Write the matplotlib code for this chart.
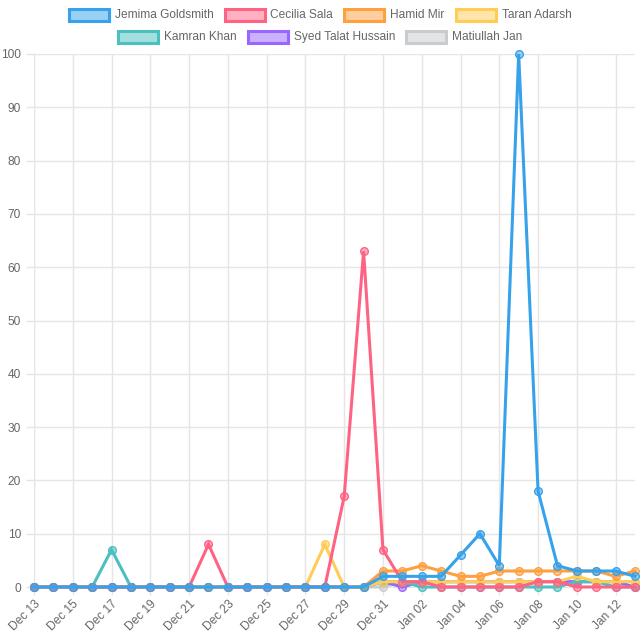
import matplotlib
matplotlib.use("Agg")
from matplotlib import pyplot as plt
from matplotlib.patches import Rectangle
import pandas as pd

# Etiquetas diárias (Dec 13 .. Jan 13)
days = [d.strftime("%b %d") for d in pd.date_range("2024-12-13", "2025-01-13")]

names = ["Jemima Goldsmith", "Cecilia Sala", "Hamid Mir", "Taran Adarsh",
         "Kamran Khan", "Syed Talat Hussain", "Matiullah Jan"]
colors = ["#36a2eb", "#ff6384", "#ff9f40", "#ffcd56",
          "#4bc0c0", "#9966ff", "#c9cbcf"]

jemima    = [0]*18 + [2, 2, 2, 2, 6, 10, 4, 100, 18, 4, 3, 3, 3, 2]
cecilia   = [0]*9 + [8] + [0]*6 + [17, 63, 7, 1, 1, 0, 0, 0, 0, 0, 1, 1, 0, 0, 0, 0]
hamid     = [0]*18 + [3, 3, 4, 3, 2, 2, 3, 3, 3, 3, 3, 3, 2, 3]
taran     = [0]*15 + [8, 0, 0] + [1, 1, 1, 1, 1, 1, 1, 1, 1, 1, 2, 1, 1, 1]
kamran    = [0]*4 + [7] + [0]*13 + [1, 1, 0, 0, 0, 0, 0, 0, 0, 0, 1, 1, 0, 0]
syed      = [0]*18 + [1, 0, 1, 1, 1, 1, 1, 1, 1, 1, 1, 1, 1, 0]
matiullah = [0]*18 + [0, 1, 1, 1, 1, 1, 1, 1, 1, 1, 1, 1, 1, 1]
series = [jemima, cecilia, hamid, taran, kamran, syed, matiullah]

grid_c = "#e5e5e5"
txt_c = "#666666"
plt.rcParams["font.family"] = ["Liberation Sans", "DejaVu Sans"]

fig = plt.figure(figsize=(6.4, 6.4), dpi=100)
ax = fig.add_axes([34/640, 53/640, 601/640, 533/640])

x = list(range(len(days)))
for i, (nm, c, ys) in enumerate(zip(names, colors, series)):
    ax.plot(x, ys, color=c, lw=2.2, marker="o", ms=5.5, mec=c, mew=1,
            mfc=matplotlib.colors.to_rgba(c, 0.5), zorder=20 - i, clip_on=False,
            solid_joinstyle="miter")

ax.set_xlim(0, len(days) - 1)
ax.set_ylim(0, 100)
ax.set_yticks(range(0, 101, 10))
ax.set_xticks(x[::2])
ax.set_xticklabels(days[::2], rotation=45, ha="right", rotation_mode="anchor")
ax.tick_params(axis="both", colors=grid_c, labelcolor=txt_c, labelsize=8.6,
               length=6, width=1)
ax.tick_params(axis="x", pad=2)
ax.grid(True, color=grid_c, lw=1)
ax.set_axisbelow(True)
for s in ["top", "right"]:
    ax.spines[s].set_visible(False)
for s in ["left", "bottom"]:
    ax.spines[s].set_color(grid_c)

# Legenda estilo Chart.js, duas linhas centradas
rows = [[0, 1, 2, 3], [4, 5, 6]]
row_y = [15, 37]
box_w, box_h, gap_t, gap_i = 40, 12, 6, 11
r = fig.canvas.get_renderer()
for row, yc in zip(rows, row_y):
    widths = []
    for k in row:
        t = fig.text(0, 0, names[k], fontsize=8.6)
        widths.append(t.get_window_extent(r).width)
        t.remove()
    total = sum(box_w + gap_t + w for w in widths) + gap_i*(len(row) - 1)
    x0 = 320 - total/2
    for k, w in zip(row, widths):
        fig.patches.append(Rectangle(((x0)/640, (640 - yc - box_h/2)/640),
                                     box_w/640, box_h/640, transform=fig.transFigure,
                                     fc=matplotlib.colors.to_rgba(colors[k], 0.5),
                                     ec=colors[k], lw=2.2))
        fig.text((x0 + box_w + gap_t)/640, (640 - yc)/640, names[k], fontsize=8.6,
                 color=txt_c, va="center", ha="left")
        x0 += box_w + gap_t + w + gap_i

fig.savefig("out.png", dpi=100)
